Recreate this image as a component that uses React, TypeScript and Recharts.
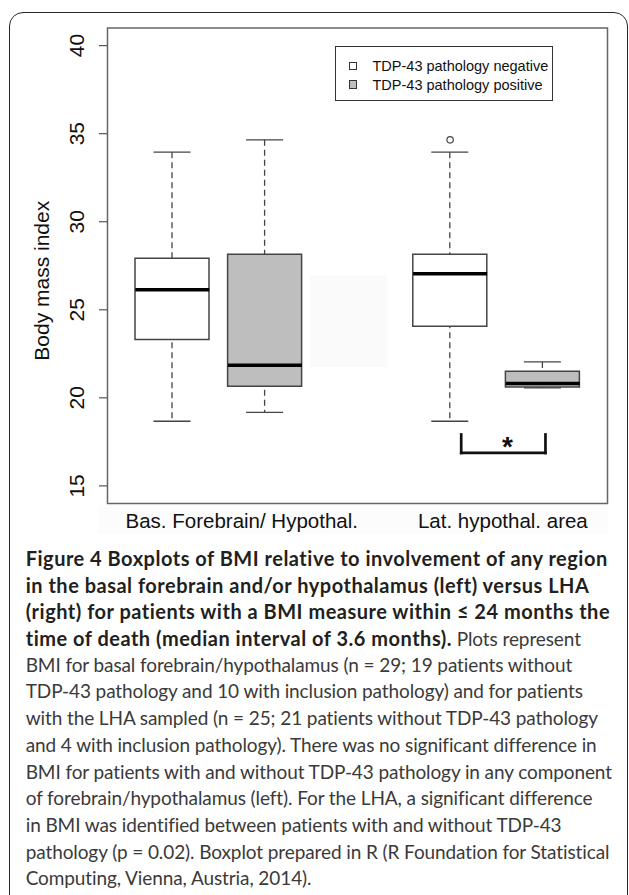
import React from 'react';
import {
  Bar,
  Cell,
  ComposedChart,
  ReferenceArea,
  ReferenceDot,
  ReferenceLine,
  Scatter,
  XAxis,
  YAxis,
} from 'recharts';

// box slots in R "at" order: 1, 2, (3 empty), 4, 5
const slots = ['bf-neg', 'bf-pos', 'gap', 'lha-neg', 'lha-pos'];
const slotAt = [1, 2, 3, 4, 5];
const slotStatus = ['negative', 'positive', '', 'negative', 'positive'];
const whiskerLow = [18.67, 19.17, null, 18.67, 20.56];
const lowerQuartile = [23.31, 20.66, null, 24.06, 20.62];
const medianValue = [26.14, 21.85, null, 27.05, 20.81];
const upperQuartile = [27.93, 28.16, null, 28.16, 21.51];
const whiskerHigh = [33.95, 34.65, null, 33.95, 22.04];
const outlierValue = [null, null, null, 34.65, null];

const groupLabels = ['Bas. Forebrain/ Hypothal.', 'Lat. hypothal. area'];
const groupLabelAt = [1.75, 4.57];
const yTicks = [15, 20, 25, 30, 35, 40];
const legendLabels = ['TDP-43 pathology negative', 'TDP-43 pathology positive'];

// significance bracket (LHA negative vs positive)
const bracketX = [4.12, 5.03];
const bracketY = [17.92, 16.87];
const starAt = { x: 4.62, y: 17.6 };

// faint scan artefact between the left pair and the right pair
const faintX = [2.49, 3.32];
const faintY = [21.75, 26.95];

const fills: Record<string, string> = { negative: '#ffffff', positive: '#bebebe' };

const rows = slots.map((slot, i) => ({
  slot,
  pos: slotAt[i],
  status: slotStatus[i],
  whisker: whiskerLow[i] == null ? null : [whiskerLow[i], whiskerHigh[i]],
  box: lowerQuartile[i] == null ? null : [lowerQuartile[i], upperQuartile[i]],
  median: medianValue[i],
  outlier: outlierValue[i],
}));

const BOX_W = 74;
const SANS = '"Liberation Sans", Arial, sans-serif';

const WhiskerShape = (p: any) => {
  const { x, y, width, height } = p;
  if (y == null || isNaN(y) || !width) return null;
  const cx = x + width / 2;
  const cap = width / 4;
  return (
    <g stroke="#444" strokeWidth={1.3}>
      <line x1={cx} x2={cx} y1={y} y2={y + height} strokeDasharray="6 4" />
      <line x1={cx - cap} x2={cx + cap} y1={y} y2={y} />
      <line x1={cx - cap} x2={cx + cap} y1={y + height} y2={y + height} />
    </g>
  );
};

const MedianShape = (p: any) => {
  const { cx, cy } = p;
  if (cy == null || isNaN(cy)) return <g />;
  return <line x1={cx - BOX_W / 2} x2={cx + BOX_W / 2} y1={cy} y2={cy} stroke="#000" strokeWidth={3.5} />;
};

const OutlierShape = (p: any) => {
  const { cx, cy } = p;
  if (cy == null || isNaN(cy)) return <g />;
  return <circle cx={cx} cy={cy} r={3.2} fill="none" stroke="#444" strokeWidth={1.2} />;
};

const YTick = ({ x, y, payload }: any) => (
  <text
    transform={`translate(${x - 15},${y}) rotate(-90)`}
    textAnchor="middle"
    fontSize={21}
    fontFamily={SANS}
    fill="#111"
  >
    {payload.value}
  </text>
);

const XTick = ({ x, y, payload }: any) => (
  <text x={x} y={y} dy={24.8} textAnchor="middle" fontSize={20.5} fontFamily={SANS} fill="#111">
    {groupLabels[groupLabelAt.indexOf(payload.value)]}
  </text>
);

const YLabel = ({ viewBox }: any) => {
  const cy = viewBox.y + viewBox.height / 2 + 15;
  return (
    <text
      transform={`translate(49,${cy}) rotate(-90)`}
      textAnchor="middle"
      fontSize={21}
      fontFamily={SANS}
      fill="#111"
    >
      Body mass index
    </text>
  );
};

const captionLines: Array<Array<[string, boolean]>> = [
  [['Figure 4 Boxplots of BMI relative to involvement of any region', true]],
  [['in the basal forebrain and/or hypothalamus (left) versus LHA', true]],
  [['(right) for patients with a BMI measure within \u2264 24 months the', true]],
  [['time of death (median interval of 3.6 months).', true], [' Plots represent', false]],
  [['BMI for basal forebrain/hypothalamus (n = 29; 19 patients without', false]],
  [['TDP-43 pathology and 10 with inclusion pathology) and for patients', false]],
  [['with the LHA sampled (n = 25; 21 patients without TDP-43 pathology', false]],
  [['and 4 with inclusion pathology). There was no significant difference in', false]],
  [['BMI for patients with and without TDP-43 pathology in any component', false]],
  [['of forebrain/hypothalamus (left). For the LHA, a significant difference', false]],
  [['in BMI was identified between patients with and without TDP-43', false]],
  [['pathology (p = 0.02). Boxplot prepared in R (R Foundation for Statistical', false]],
  [['Computing, Vienna, Austria, 2014).', false]],
];

const boldStyle: React.CSSProperties = { fontWeight: 700, color: '#231f20', fontSize: 20, letterSpacing: 0.5 };
const plainStyle: React.CSSProperties = { fontWeight: 400, color: '#3a3a3a', fontSize: 19, letterSpacing: -0.1 };

export default function App() {
  return (
    <div
      style={{
        position: 'absolute',
        left: 0,
        top: 0,
        width: 629,
        height: 895,
        overflow: 'hidden',
        background: '#fff',
      }}
    >
      <div
        style={{
          position: 'absolute',
          left: 9,
          top: 12,
          width: 619,
          height: 1000,
          boxSizing: 'border-box',
          border: '1.5px solid #2a2a2a',
          borderRadius: 14,
        }}
      />
      <div style={{ position: 'absolute', left: 98, top: 505, width: 510, height: 29, background: '#fcfcfc' }} />

      <div style={{ position: 'absolute', left: 0, top: 0 }}>
        <ComposedChart
          width={629}
          height={560}
          data={rows}
          margin={{ top: 28, right: 21.5, bottom: 16.5, left: 47.5 }}
        >
          <XAxis
            xAxisId="num"
            dataKey="pos"
            type="number"
            domain={[0.3, 5.7]}
            allowDataOverflow
            ticks={groupLabelAt}
            interval={0}
            axisLine={false}
            tickLine={false}
            tickSize={0}
            tickMargin={0}
            height={40}
            tick={<XTick />}
          />
          <XAxis xAxisId="cat" dataKey="slot" type="category" hide height={0} padding={{ left: 18.5, right: 18.5 }} />
          <XAxis xAxisId="catW" dataKey="slot" type="category" hide height={0} padding={{ left: 18.5, right: 18.5 }} />
          <YAxis
            domain={[14, 41]}
            allowDataOverflow
            ticks={yTicks}
            interval={0}
            width={60}
            axisLine={false}
            tickSize={8.5}
            tickMargin={0}
            tickLine={{ stroke: '#555', strokeWidth: 1.2 }}
            tick={<YTick />}
            label={{ content: <YLabel /> }}
          />

          <ReferenceArea
            xAxisId="num"
            x1={faintX[0]}
            x2={faintX[1]}
            y1={faintY[0]}
            y2={faintY[1]}
            fill="#fafafa"
            fillOpacity={1}
            stroke="none"
          />

          <Bar xAxisId="catW" dataKey="whisker" barSize={BOX_W} shape={<WhiskerShape />} isAnimationActive={false} />
          <Bar xAxisId="cat" dataKey="box" barSize={BOX_W} stroke="#444" strokeWidth={1.5} isAnimationActive={false}>
            {rows.map((r) => (
              <Cell key={r.slot} fill={fills[r.status] || 'none'} />
            ))}
          </Bar>
          <Scatter xAxisId="cat" dataKey="median" shape={<MedianShape />} isAnimationActive={false} />
          <Scatter xAxisId="cat" dataKey="outlier" shape={<OutlierShape />} isAnimationActive={false} />

          <ReferenceLine
            xAxisId="num"
            segment={[
              { x: bracketX[0], y: bracketY[0] },
              { x: bracketX[0], y: bracketY[1] },
            ]}
            stroke="#111"
            strokeWidth={2.7}
            strokeLinecap="square"
          />
          <ReferenceLine
            xAxisId="num"
            segment={[
              { x: bracketX[0], y: bracketY[1] },
              { x: bracketX[1], y: bracketY[1] },
            ]}
            stroke="#111"
            strokeWidth={2.7}
            strokeLinecap="square"
          />
          <ReferenceLine
            xAxisId="num"
            segment={[
              { x: bracketX[1], y: bracketY[0] },
              { x: bracketX[1], y: bracketY[1] },
            ]}
            stroke="#111"
            strokeWidth={2.7}
            strokeLinecap="square"
          />
          <ReferenceDot
            xAxisId="num"
            x={starAt.x}
            y={starAt.y}
            r={0}
            shape={(p: any) => (
              <text x={p.cx} y={p.cy} dy={16} textAnchor="middle" fontSize={28} fontWeight="bold" fontFamily={SANS} fill="#111">
                *
              </text>
            )}
          />

          <ReferenceArea
            xAxisId="num"
            x1={0.3}
            x2={5.7}
            y1={14}
            y2={41}
            fill="none"
            stroke="#666"
            strokeWidth={1.5}
            ifOverflow="visible"
          />
        </ComposedChart>
      </div>

      <div
        style={{
          position: 'absolute',
          left: 335,
          top: 45.5,
          width: 218,
          height: 55.5,
          boxSizing: 'border-box',
          border: '1px solid #333',
          background: '#fff',
          fontFamily: SANS,
          fontSize: 14.5,
          color: '#111',
        }}
      >
        {legendLabels.map((label, i) => (
          <div
            key={label}
            style={{ position: 'absolute', left: 0, top: 10.5 + i * 18.5, height: 18, lineHeight: '18px', whiteSpace: 'nowrap' }}
          >
            <span
              style={{
                position: 'absolute',
                left: 13,
                top: 4.9,
                width: 8.3,
                height: 8.3,
                boxSizing: 'border-box',
                border: '1px solid #333',
                background: i === 0 ? fills.negative : fills.positive,
              }}
            />
            <span style={{ position: 'absolute', left: 36.5, top: 0 }}>{label}</span>
          </div>
        ))}
      </div>

      <div
        style={{
          position: 'absolute',
          left: 25.7,
          top: 545,
          fontFamily: 'Lato, "Open Sans", sans-serif',
          lineHeight: '26.7px',
        }}
      >
        {captionLines.map((line, i) => (
          <div key={i} style={{ whiteSpace: 'nowrap', height: 26.7 }}>
            {line.map(([t, b], j) => (
              <span key={j} style={b ? boldStyle : plainStyle}>
                {t}
              </span>
            ))}
          </div>
        ))}
      </div>
    </div>
  );
}
